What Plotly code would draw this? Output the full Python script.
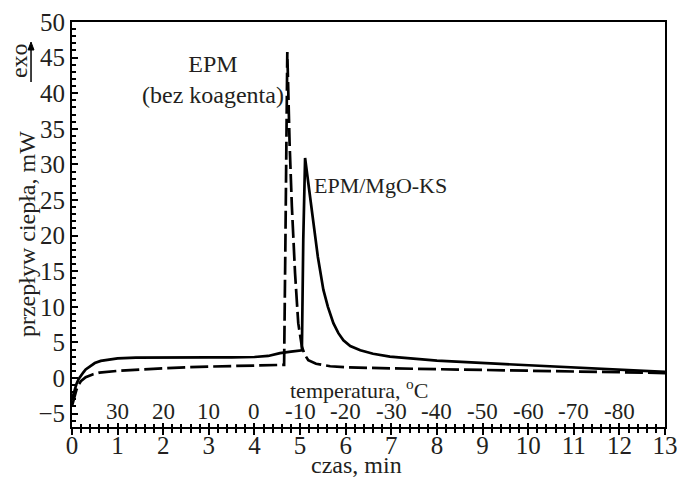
import plotly.graph_objects as go

# EPM (bez koagenta) - dashed curve
epm_t = [0, 0.05, 0.1, 0.15, 0.2, 0.3, 0.45, 0.6, 1.0, 1.5, 2.0, 2.5, 3.0, 3.5, 4.0, 4.3, 4.6, 4.65,
         4.68, 4.72, 4.77, 4.82, 4.89, 4.96, 5.04, 5.1, 5.18, 5.35, 5.66, 6.0, 7, 8, 9, 10, 11, 12, 13]
epm_v = [-3.9, -2.6, -1.6, -0.9, -0.4, 0.1, 0.5, 0.75, 1.0, 1.2, 1.4, 1.5, 1.6, 1.65, 1.7, 1.75, 1.8, 1.85,
         20, 45.8, 33, 24.1, 14.7, 7.7, 4.4, 3.3, 2.5, 2.0, 1.65, 1.5, 1.35, 1.25, 1.15, 1.05, 0.95, 0.85, 0.7]

# EPM/MgO-KS - solid curve
mgo_t = [0, 0.05, 0.1, 0.15, 0.2, 0.25, 0.3, 0.4, 0.5, 0.63, 0.8, 1.0, 1.4, 2, 3, 3.5, 4.0, 4.3, 4.56,
         4.8, 4.95, 5.04, 5.07, 5.11, 5.2, 5.29, 5.39, 5.51, 5.61, 5.73, 5.84, 5.95, 6.1, 6.32, 6.6, 6.97,
         7.6, 8.0, 9.5, 10.9, 12, 13]
mgo_v = [-3.0, -1.8, -0.8, -0.1, 0.4, 0.8, 1.2, 1.7, 2.1, 2.4, 2.6, 2.75, 2.85, 2.9, 2.9, 2.9, 2.95, 3.1,
         3.5, 3.7, 3.85, 3.9, 19.4, 30.9, 26.4, 21.7, 17.0, 12.4, 10.0, 7.7, 6.3, 5.3, 4.5, 3.9, 3.4, 3.0,
         2.65, 2.45, 1.95, 1.5, 1.15, 0.85]

# temperature scale labels placed at time positions
temp_pos = [1, 2, 3, 4, 5, 6, 7, 8, 9, 10, 11, 12]
temp_lbl = ["30", "20", "10", "0", "-10", "-20", "-30", "-40", "-50", "-60", "-70", "-80"]

x_ticks = list(range(0, 14))
y_ticks = [-5, 0, 5, 10, 15, 20, 25, 30, 35, 40, 45, 50]

FONT = "Liberation Serif"
TXT = "#231f20"

fig = go.Figure()
fig.add_trace(go.Scatter(x=epm_t, y=epm_v, mode="lines",
                         line=dict(color="black", width=2.7, dash="18px,5px"), showlegend=False))
fig.add_trace(go.Scatter(x=mgo_t, y=mgo_v, mode="lines",
                         line=dict(color="black", width=2.7), showlegend=False))
# helper trace on overlay axis (for crossing ticks on bottom axis)
fig.add_trace(go.Scatter(x=[0], y=[0], xaxis="x2", mode="markers",
                         marker=dict(opacity=0), showlegend=False, hoverinfo="skip"))

fig.update_layout(
    width=677, height=479,
    margin=dict(l=72, r=12, t=22, b=52),
    paper_bgcolor="white", plot_bgcolor="white",
    font=dict(family=FONT, color=TXT, size=22),
    xaxis=dict(range=[0, 13], tickvals=x_ticks, ticks="outside", ticklen=6, tickwidth=2,
               tickcolor="black", linecolor="black", linewidth=2, mirror=True,
               showgrid=False, zeroline=False, automargin=False,
               ticklabelstandoff=-11, ticklabeloverflow="allow",
               minor=dict(dtick=0.2, ticks="outside", ticklen=4, tickwidth=1.5, tickcolor="black"),
               tickfont=dict(size=25, family=FONT, color=TXT)),
    xaxis2=dict(range=[0, 13], overlaying="x", side="bottom", tickvals=x_ticks, ticks="inside",
                ticklen=4, tickwidth=2, tickcolor="black", showticklabels=False, showline=False,
                showgrid=False, zeroline=False, automargin=False,
                minor=dict(dtick=0.2, ticks="inside", ticklen=3, tickwidth=1.5, tickcolor="black")),
    yaxis=dict(range=[-6.88, 50], tickvals=y_ticks, ticks="inside", ticklen=6, tickwidth=2,
               tickcolor="black", linecolor="black", linewidth=2, mirror=True,
               showgrid=False, zeroline=False, automargin=False,
               minor=dict(dtick=1, ticks="inside", ticklen=4, tickwidth=1.5, tickcolor="black"),
               tickfont=dict(size=25, family=FONT, color=TXT)),
)

# axis titles
fig.add_annotation(xref="paper", yref="paper", x=-0.0758, y=0.4765, text="przepływ ciepła, mW",
                   textangle=-90, showarrow=False, xanchor="center", yanchor="middle",
                   font=dict(size=24, family=FONT, color=TXT))
fig.add_annotation(xref="paper", yref="paper", x=0.48, y=-0.094, text="czas, min",
                   showarrow=False, xanchor="center", yanchor="middle", borderpad=0,
                   font=dict(size=24, family=FONT, color=TXT))

for p, l in zip(temp_pos, temp_lbl):
    fig.add_annotation(x=p, y=-4.75, text=l, showarrow=False, borderpad=0,
                       font=dict(size=23, family=FONT, color=TXT))
fig.add_annotation(x=6.3, y=-1.6, text="temperatura, <sup>o</sup>C", showarrow=False, borderpad=0,
                   font=dict(size=22, family=FONT, color=TXT))
fig.add_annotation(x=3.09, y=41.9, text="EPM<br>(bez koagenta)", showarrow=False,
                   font=dict(size=24, family=FONT, color=TXT))
fig.add_annotation(x=5.27, y=27.1, text="EPM/MgO-KS", showarrow=False, xanchor="left",
                   font=dict(size=22, family=FONT, color=TXT))
# exo label with arrow
fig.add_annotation(xref="paper", yref="paper", x=-0.0894, y=0.906, text="exo", textangle=-90,
                   showarrow=False, xanchor="center", yanchor="middle",
                   font=dict(size=24, family=FONT, color=TXT))
fig.add_shape(type="line", xref="paper", yref="paper", x0=-0.0691, x1=-0.0691, y0=0.8519, y1=0.935,
              line=dict(color="black", width=1.5))
fig.add_shape(type="path", xref="paper", yref="paper",
              path="M -0.0741 0.9309 L -0.0641 0.9309 L -0.0691 0.9506 Z",
              fillcolor="black", line=dict(color="black", width=1))

fig.write_html("out.html", config={"displayModeBar": False},
               post_script="document.body.style.margin='0';document.body.style.overflow='hidden';")
